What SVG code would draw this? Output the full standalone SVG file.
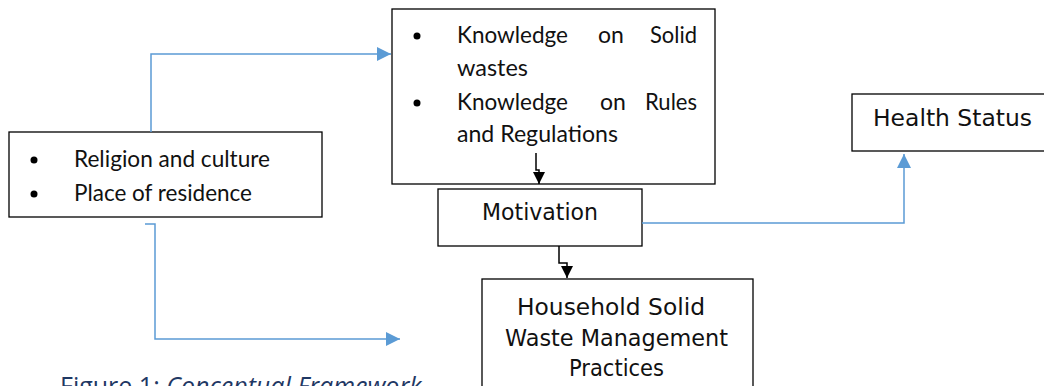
<svg xmlns="http://www.w3.org/2000/svg" width="1044" height="386" viewBox="0 0 1044 386">
<defs>
<style>
.box{fill:#fff;stroke:#000;stroke-width:1.3}
.t{font-family:Lato,"Open Sans",sans-serif;font-size:23px;fill:#111}
.u{font-family:"DejaVu Sans","Open Sans",sans-serif;font-size:22.5px;fill:#111}
.blue{fill:none;stroke:#5b9bd5;stroke-width:1.5}
.blk{fill:none;stroke:#000;stroke-width:1.5}
.cap{font-family:"Open Sans","Noto Sans",sans-serif;font-size:25px;fill:#1f3864}
</style>
<marker id="ab" viewBox="0 0 10 10" refX="10" refY="5" markerWidth="15" markerHeight="14" markerUnits="userSpaceOnUse" orient="auto"><path d="M0,0L10,5L0,10z" fill="#5b9bd5"/></marker>
<marker id="ak" viewBox="0 0 10 10" refX="10" refY="5" markerWidth="13" markerHeight="12" markerUnits="userSpaceOnUse" orient="auto"><path d="M0,0L10,5L0,10z" fill="#000"/></marker>
</defs>
<g id="factors">
<rect class="box" x="9" y="132" width="313" height="85"/>
<circle cx="34" cy="160" r="3.5"/>
<circle cx="34" cy="194" r="3.5"/>
<text class="t" x="74" y="167" textLength="196" lengthAdjust="spacingAndGlyphs">Religion and culture</text>
<text class="t" x="74" y="201" textLength="178" lengthAdjust="spacingAndGlyphs">Place of residence</text>
</g>
<g id="knowledge">
<rect class="box" x="392" y="9" width="323" height="175"/>
<circle cx="417" cy="36" r="3.5"/>
<circle cx="417" cy="103" r="3.5"/>
<text class="t" x="457" y="43" textLength="111" lengthAdjust="spacingAndGlyphs">Knowledge</text>
<text class="t" x="598" y="43">on</text>
<text class="t" x="650" y="43" textLength="47" lengthAdjust="spacingAndGlyphs">Solid</text>
<text class="t" x="457" y="76" textLength="71" lengthAdjust="spacingAndGlyphs">wastes</text>
<text class="t" x="457" y="110" textLength="111" lengthAdjust="spacingAndGlyphs">Knowledge</text>
<text class="t" x="600" y="110">on</text>
<text class="t" x="645" y="110" textLength="52" lengthAdjust="spacingAndGlyphs">Rules</text>
<text class="t" x="457" y="142" textLength="161" lengthAdjust="spacingAndGlyphs">and Regulations</text>
</g>
<g id="motivation">
<rect class="box" x="438" y="189" width="204" height="57"/>
<text class="u" x="482" y="220" textLength="116" lengthAdjust="spacingAndGlyphs">Motivation</text>
</g>
<g id="practices">
<rect class="box" x="482" y="279" width="271" height="110"/>
<text class="u" x="517" y="315" textLength="188" lengthAdjust="spacingAndGlyphs">Household Solid</text>
<text class="u" x="505" y="346" textLength="223" lengthAdjust="spacingAndGlyphs">Waste Management</text>
<text class="u" x="569" y="376" textLength="95" lengthAdjust="spacingAndGlyphs">Practices</text>
</g>
<g id="health">
<rect class="box" x="852" y="94" width="200" height="57"/>
<text class="u" x="873" y="126" textLength="159" lengthAdjust="spacingAndGlyphs">Health Status</text>
</g>
<g id="connectors">
<path class="blue" d="M151,132V54H391" marker-end="url(#ab)"/>
<path class="blue" d="M145,224H155V339H400" marker-end="url(#ab)"/>
<path class="blue" d="M642,223H904V154" marker-end="url(#ab)"/>
<path class="blk" d="M536,153V170H539V184" marker-end="url(#ak)"/>
<path class="blk" d="M559,246V263H567V278" marker-end="url(#ak)"/>
</g>
<text class="cap" x="60" y="395">Figure 1: <tspan font-style="italic">Conceptual Framework</tspan></text>
</svg>
